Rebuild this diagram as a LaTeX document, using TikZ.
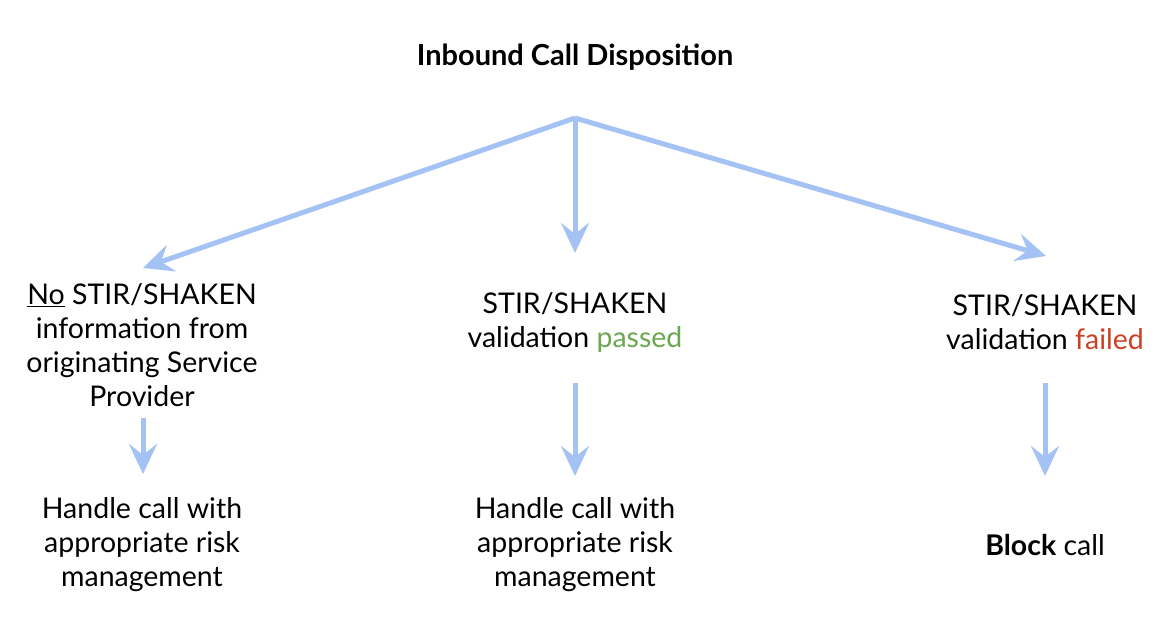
\documentclass[tikz,border=0pt]{standalone}
\usepackage{fontspec}
\setmainfont{Lato}
\usetikzlibrary{arrows.meta}
\definecolor{arrowblue}{HTML}{A4C2F4}
\definecolor{passgreen}{HTML}{6AA84F}
\definecolor{failred}{HTML}{CC4125}
\begin{document}
\begin{tikzpicture}[x=1pt,y=-1pt,
  conn/.style={draw=arrowblue, line width=5pt, -{Stealth[length=30pt,width=28pt,inset=11pt]}},
  txt/.style={align=center, font=\fontsize{28.5}{34}\selectfont, text=black, inner sep=0pt},
  ttl/.style={font=\fontsize{29}{34}\selectfont\bfseries, text=black, inner sep=0pt}]
\useasboundingbox (0,0) rectangle (1158,616);
\fill[white] (0,0) rectangle (1158,616);
\node[ttl] (title) at (575,57) {Inbound Call Disposition};
\coordinate (hub) at (575,118);
\coordinate (tl) at (143,268);
\coordinate (tm) at (575,253);
\coordinate (tr) at (1046,256);
\draw[conn] (hub) -- (tl);
\draw[conn] (hub) -- (tm);
\draw[conn] (hub) -- (tr);
\node[txt] (nol) at (142,345) {\underline{No} STIR/SHAKEN\\information from\\originating Service\\Provider};
\node[txt] (pass) at (575,322) {STIR/SHAKEN\\validation \textcolor{passgreen}{passed}};
\node[txt] (fail) at (1045,322) {STIR/SHAKEN\\validation \textcolor{failred}{failed}};
\coordinate (sl1) at (143,418);
\coordinate (el1) at (143,474);
\coordinate (sm1) at (575,383);
\coordinate (em1) at (575,476);
\coordinate (sr1) at (1045,383);
\coordinate (er1) at (1045,476);
\draw[conn] (sl1) -- (el1);
\draw[conn] (sm1) -- (em1);
\draw[conn] (sr1) -- (er1);
\node[txt] (hl) at (142,545) {Handle call with\\appropriate risk\\management};
\node[txt] (hm) at (575,545) {Handle call with\\appropriate risk\\management};
\node[txt] (blk) at (1045,545) {\textbf{Block} call};
\end{tikzpicture}
\end{document}
